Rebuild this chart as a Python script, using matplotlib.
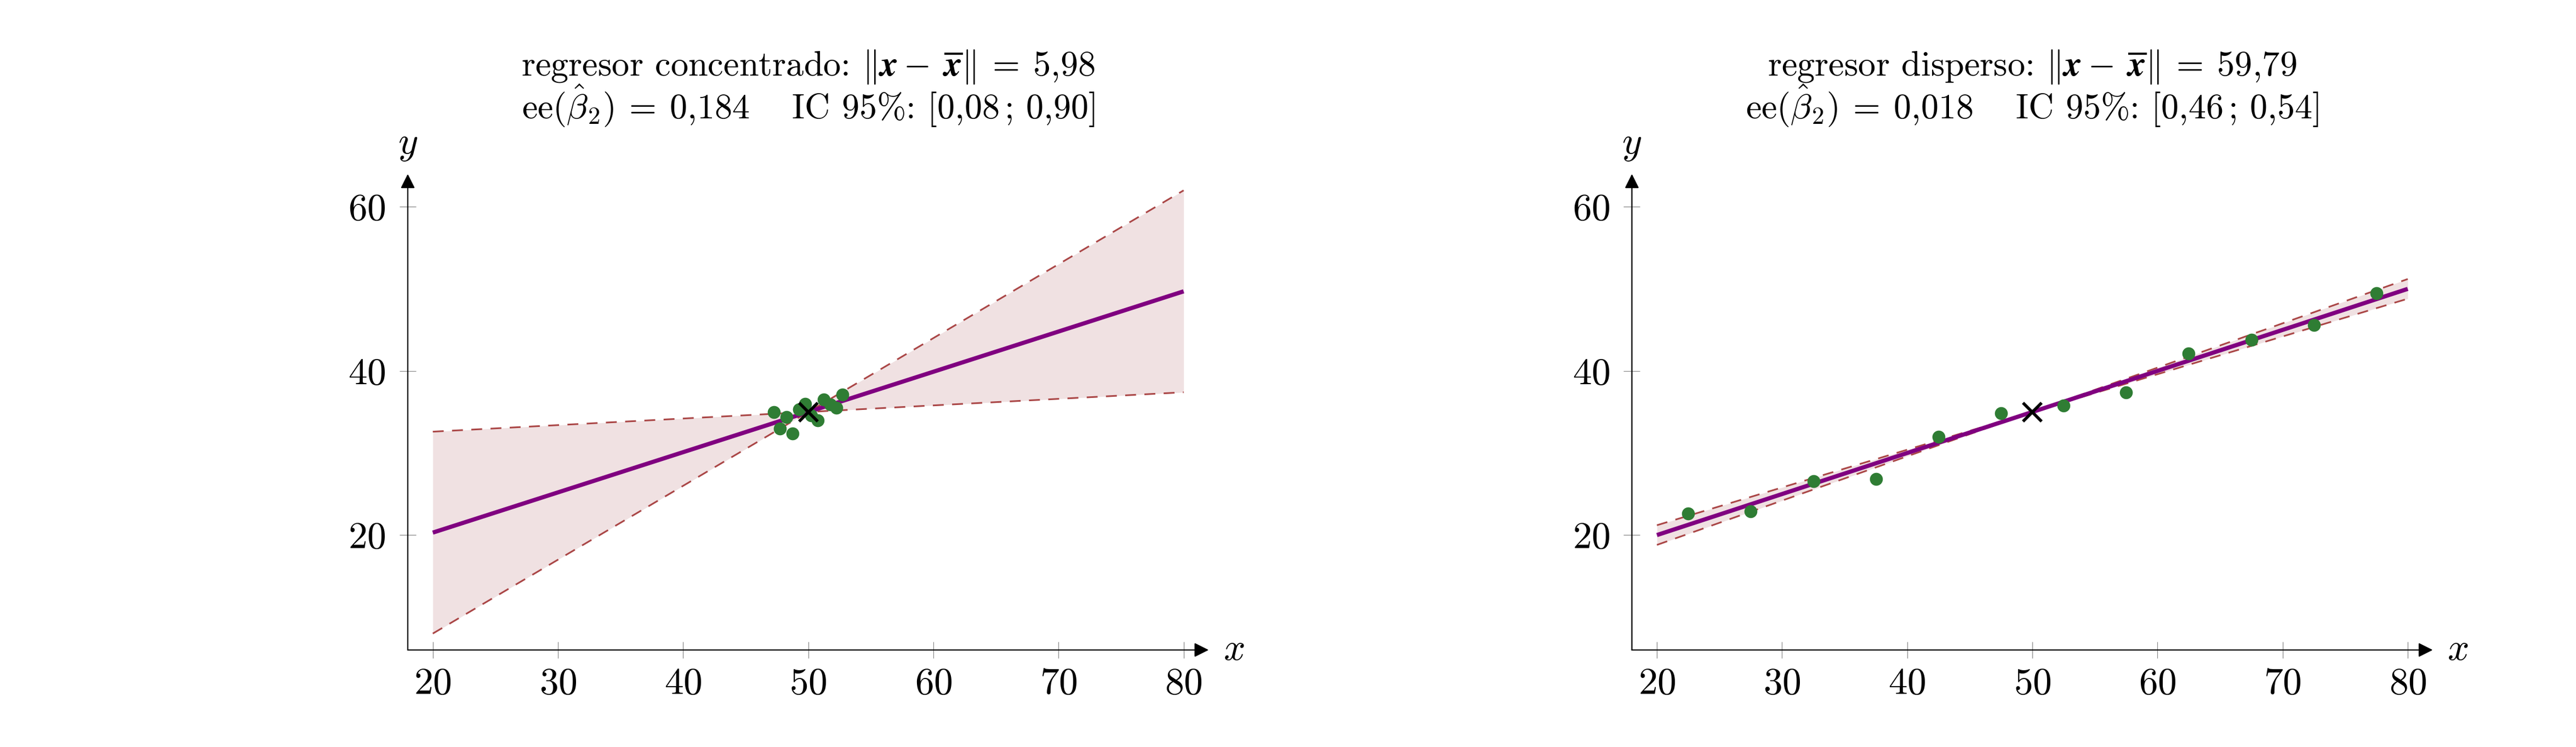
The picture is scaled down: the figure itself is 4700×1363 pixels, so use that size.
import numpy as np
import matplotlib
matplotlib.use("Agg")
import matplotlib.pyplot as plt

plt.rcParams['font.family'] = ['cmr10', 'DejaVu Serif']
plt.rcParams['mathtext.fontset'] = 'cm'
plt.rcParams['axes.unicode_minus'] = False
plt.rcParams['axes.formatter.use_mathtext'] = True

# data
x_conc = [47.25, 47.75, 48.25, 48.75, 49.25, 49.75,
          50.25, 50.75, 51.25, 51.75, 52.25, 52.75]
y_conc = [35.0, 33.0, 34.4, 32.4, 35.3, 36.0,
          34.6, 34.0, 36.5, 35.9, 35.5, 37.1]
x_disp = [22.5, 27.5, 32.5, 37.5, 42.5, 47.5,
          52.5, 57.5, 62.5, 67.5, 72.5, 77.5]
y_disp = [22.65, 22.9, 26.55, 26.8, 32.0, 34.85,
          35.8, 37.4, 42.1, 43.8, 45.6, 49.5]
x_mean, y_mean = 50, 35
slope_conc = 0.49
slope_disp = 0.50
ci_conc = [0.08, 0.90]
ci_disp = [0.46, 0.54]
x_range = [20, 80]
xticks = [20, 30, 40, 50, 60, 70, 80]
yticks = [20, 40, 60]

norm_tex = r"$\Vert\boldsymbol{x}-\:\overline{\boldsymbol{x}}\Vert\:{=}\:$"
se_tex = r"ee$(\hat{\beta}_2)\:{=}\:$"
titles = [
    ("regresor concentrado: " + norm_tex + "5,98",
     se_tex + r"0,184$\quad$ IC 95%: [0,08$\,$; 0,90]"),
    ("regresor disperso: " + norm_tex + "59,79",
     se_tex + r"0,018$\quad$ IC 95%: [0,46$\,$; 0,54]"),
]

purple = '#800080'
band_edge = '#aa4646'
band_fill = '#f0e1e2'
green = '#2f7d34'
fs = 50
fs_title = 48
title_px = [1047, 1046]  # width of the left title lines in the reference

fig = plt.figure(figsize=(47, 13.63), dpi=100)
rects = [[0.1583, 0.1299, 0.3109, 0.6372],
         [0.6335, 0.1299, 0.3109, 0.6372]]
panels = [(x_conc, y_conc, slope_conc, ci_conc),
          (x_disp, y_disp, slope_disp, ci_disp)]

title_texts = []
for rect, (xs, ys, b, ci), (t1, t2) in zip(rects, panels, titles):
    ax = fig.add_axes(rect)
    xr = np.array(x_range, dtype=float)
    lo = y_mean + ci[0] * (xr - x_mean)
    hi = y_mean + ci[1] * (xr - x_mean)
    fit = y_mean + b * (xr - x_mean)

    ax.fill_between(xr, lo, hi, color=band_fill, lw=0, zorder=1)
    for edge in (lo, hi):
        ax.plot(xr, edge, color=band_edge, lw=2.2, dashes=(6.5, 5), zorder=2)
    ax.plot(xr, fit, color=purple, lw=5.5, solid_capstyle='butt', zorder=3)
    ax.plot(xs, ys, 'o', color=green, ms=17, mew=0, zorder=4)
    ax.plot([x_mean], [y_mean], 'x', color='black', ms=24, mew=4, zorder=5)

    ax.set_xlim(18, 82)
    ax.set_ylim(6, 64)
    ax.set_xticks(xticks)
    ax.set_yticks(yticks)
    for s in ('top', 'right', 'left', 'bottom'):
        ax.spines[s].set_visible(False)
    ax.tick_params(direction='inout', length=21.6, width=0.8, color='#808080',
                   labelsize=fs, labelcolor='black')
    ax.tick_params(axis='x', pad=12)
    ax.tick_params(axis='y', pad=18)

    arrow = dict(arrowstyle='-|>,head_length=1.6,head_width=0.8', lw=1.6,
                 color='black', shrinkA=0, shrinkB=0)
    ax.annotate('', xy=(1, 0), xytext=(0, 0), xycoords='axes fraction',
                arrowprops=arrow)
    ax.annotate('', xy=(0, 1), xytext=(0, 0), xycoords='axes fraction',
                arrowprops=arrow)
    ax.text(1.0183, 0, '$x$', transform=ax.transAxes, ha='left', va='center',
            fontsize=fs)
    ax.text(0, 1.043, '$y$', transform=ax.transAxes, ha='center',
            va='baseline', fontsize=fs)

    h1 = ax.text(0.5, 1.2068, t1, transform=ax.transAxes, ha='center',
                 va='baseline', fontsize=fs_title)
    h2 = ax.text(0.5, 1.1158, t2, transform=ax.transAxes, ha='center',
                 va='baseline', fontsize=fs_title)
    title_texts.append((h1, h2))

# scale the title font so the left title lines have the reference width
renderer = fig.canvas.get_renderer()
for i in range(2):
    w = title_texts[0][i].get_window_extent(renderer).width
    size = fs_title * title_px[i] / w
    for pair in title_texts:
        pair[i].set_fontsize(size)

fig.savefig('out.png', dpi=100)
